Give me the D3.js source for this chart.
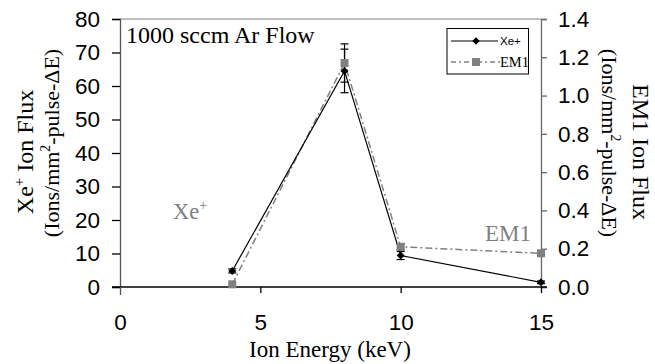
<!DOCTYPE html>
<html><head><meta charset="utf-8">
<script src="https://cdn.jsdelivr.net/npm/d3@7"></script>
<style>body{margin:0;background:#fff}svg{display:block}
.sans{font-family:'Liberation Sans',Arial,Helvetica,sans-serif}
.serif{font-family:'Liberation Serif','Times New Roman',Times,serif}
</style>
</head><body>
<svg id="c" width="655" height="364"></svg>
<script>
const energy = [4, 8, 10, 15];
const xeFlux = [4.8, 64.5, 9.4, 1.4];
const xeErr = [0.6, 6.5, 1.2, 0.4];
const em1Flux = [0.014, 1.17, 0.21, 0.176];
const em1Err = [0, 0.1, 0.015, 0.01];
const xTicks = [0, 5, 10, 15];
const yLeftTicks = [0, 10, 20, 30, 40, 50, 60, 70, 80];
const yRightTicks = [0, 0.2, 0.4, 0.6, 0.8, 1.0, 1.2, 1.4];

const svg = d3.select("#c");
const L = 120, R = 541, T = 19, B = 287;
const x = d3.scaleLinear().domain([0, 15]).range([L, R]);
const yL = d3.scaleLinear().domain([0, 80]).range([B, T]);
const yR = d3.scaleLinear().domain([0, 1.4]).range([B, T]);

// frame top
svg.append("line").attr("x1", L).attr("x2", R).attr("y1", T).attr("y2", T).attr("stroke", "#808080").attr("stroke-width", 1);

// axes
const gl = svg.append("g").attr("transform", `translate(${L},0)`)
  .call(d3.axisLeft(yL).tickValues(yLeftTicks).tickSize(8).tickPadding(12).tickFormat(d3.format("d")));
const gr = svg.append("g").attr("transform", `translate(${R},0)`)
  .call(d3.axisRight(yR).tickValues(yRightTicks).tickSize(6).tickPadding(11).tickFormat(d3.format(".1f")));
const gx = svg.append("g").attr("transform", `translate(0,${B})`)
  .call(d3.axisBottom(x).tickValues(xTicks).tickSize(6).tickPadding(21).tickFormat(d3.format("d")));
[gl, gr, gx].forEach(g => {
  g.attr("font-family", null).attr("font-size", null);
  g.selectAll("path.domain").attr("stroke-width", 1.3);
  g.selectAll(".tick line").attr("stroke-width", 1.3);
  g.selectAll("text").attr("class", "sans").attr("font-size", 22.5).attr("fill", "#000");
});
gl.selectAll("path.domain").attr("stroke", "#555");
gr.selectAll("path.domain, .tick line").attr("stroke", "#666");
gx.select("path.domain").attr("d", `M${L - 8},0H${R + 6}`);
gx.selectAll(".tick").filter(d => d === 0).select("line").attr("y1", 0).attr("y2", 8).attr("stroke", "#555");

// EM1 series (right axis)
const lineEm = d3.line().x((d, i) => x(energy[i])).y(d => yR(d));
svg.append("path").datum(em1Flux).attr("d", lineEm).attr("fill", "none")
  .attr("stroke", "#808080").attr("stroke-width", 1.5).attr("stroke-dasharray", "7,3,2,3");
// Xe+ series
const lineXe = d3.line().x((d, i) => x(energy[i])).y(d => yL(d));
svg.append("path").datum(xeFlux).attr("d", lineXe).attr("fill", "none")
  .attr("stroke", "#000").attr("stroke-width", 1.2);

// error bars
function errBars(vals, errs, sc, color) {
  vals.forEach((v, i) => {
    if (!errs[i]) return;
    const cx = x(energy[i]), y1 = sc(v + errs[i]), y2 = sc(v - errs[i]);
    svg.append("line").attr("x1", cx).attr("x2", cx).attr("y1", y1).attr("y2", y2).attr("stroke", color).attr("stroke-width", 1.2);
    [y1, y2].forEach(yy => svg.append("line").attr("x1", cx - 4).attr("x2", cx + 4).attr("y1", yy).attr("y2", yy).attr("stroke", color).attr("stroke-width", 1.2));
  });
}
errBars(xeFlux, xeErr, yL, "#000");
errBars(em1Flux, em1Err, yR, "#000");

// markers
svg.selectAll(".sq").data(em1Flux).enter().append("rect")
  .attr("x", (d, i) => x(energy[i]) - 4).attr("y", d => yR(d) - 4).attr("width", 8).attr("height", 8).attr("fill", "#808080");
svg.selectAll(".dm").data(xeFlux).enter().append("path")
  .attr("d", d3.symbol(d3.symbolDiamond2, 40)).attr("fill", "#000")
  .attr("transform", (d, i) => `translate(${x(energy[i])},${yL(d)})`);

// annotations
svg.append("text").attr("x", 126).attr("y", 43).attr("class", "serif").attr("font-size", 24).text("1000 sccm Ar Flow");
const xeLab = svg.append("text").attr("x", 173).attr("y", 219).attr("class", "serif").attr("font-size", 22.5).attr("fill", "#808080");
xeLab.append("tspan").text("Xe");
xeLab.append("tspan").attr("font-size", 14).attr("dy", -9).text("+");
svg.append("text").attr("x", 485).attr("y", 241).attr("class", "serif").attr("font-size", 23).attr("fill", "#808080").text("EM1");

// legend
const lg = svg.append("g");
lg.append("rect").attr("x", 447).attr("y", 28.5).attr("width", 81.5).attr("height", 45.5).attr("fill", "#fff").attr("stroke", "#000").attr("stroke-width", 1);
lg.append("line").attr("x1", 451).attr("x2", 498).attr("y1", 41).attr("y2", 41).attr("stroke", "#000").attr("stroke-width", 1.2);
lg.append("path").attr("d", d3.symbol(d3.symbolDiamond2, 36)).attr("transform", "translate(476,41)").attr("fill", "#000");
lg.append("text").attr("x", 500).attr("y", 45).attr("class", "sans").attr("font-size", 11.5).text("Xe+");
lg.append("line").attr("x1", 451).attr("x2", 500).attr("y1", 62).attr("y2", 62).attr("stroke", "#808080").attr("stroke-width", 1.5).attr("stroke-dasharray", "5,3,2,3");
lg.append("rect").attr("x", 472).attr("y", 58).attr("width", 8).attr("height", 8).attr("fill", "#808080");
lg.append("text").attr("x", 500).attr("y", 67).attr("class", "serif").attr("font-size", 14.5).text("EM1");

// axis titles
svg.append("text").attr("x", 330).attr("y", 357).attr("text-anchor", "middle").attr("class", "serif").attr("font-size", 23).text("Ion Energy (keV)");
function vtitle(cx, cy, rot, parts, fs) {
  const t = svg.append("text").attr("transform", `translate(${cx},${cy}) rotate(${rot})`).attr("text-anchor", "middle")
    .attr("class", "serif").attr("font-size", fs);
  parts.forEach(p => {
    const s = t.append("tspan").text(p.t);
    if (p.sup) s.attr("font-size", fs * 0.62);
    if (p.dy) s.attr("dy", p.dy);
  });
}
vtitle(33, 152, -90, [{t: "Xe"}, {t: "+", sup: true, dy: -9}, {t: " Ion Flux", dy: 9}], 24);
vtitle(59, 143, -90, [{t: "(Ions/mm"}, {t: "2", sup: true, dy: -9}, {t: "-pulse-ΔE)", dy: 9}], 22);
vtitle(633, 152, 90, [{t: "EM1 Ion Flux"}], 24);
vtitle(602, 143, 90, [{t: "(Ions/mm"}, {t: "2", sup: true, dy: -9}, {t: "-pulse-ΔE)", dy: 9}], 22);
</script>
</body></html>
